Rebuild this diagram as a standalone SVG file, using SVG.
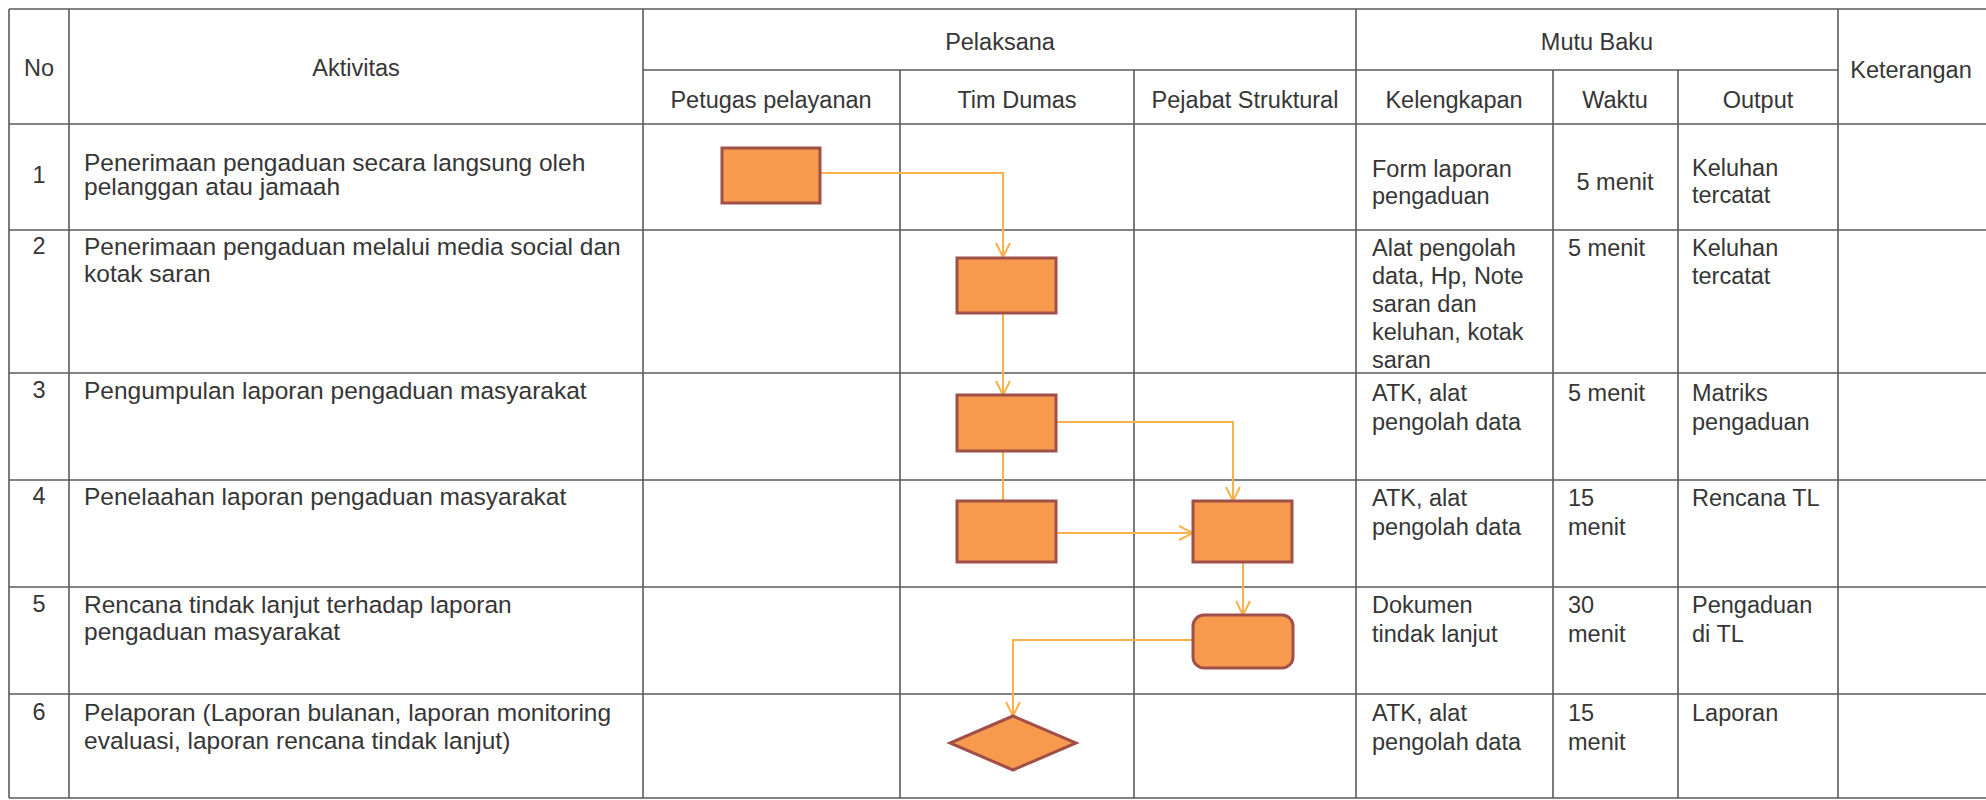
<svg xmlns="http://www.w3.org/2000/svg" width="1986" height="800" viewBox="0 0 1986 800">
<style>
.t{font-family:"Liberation Sans",Arial,sans-serif;font-size:23.5px;fill:#363636}
.a{font-size:24.5px}
.c{text-anchor:middle}
.g{stroke:#5a5a5a;stroke-width:1.6;fill:none}
.box{fill:#F79A4E;stroke:#A05048;stroke-width:3}
.con{fill:none;stroke:#F8B24C;stroke-width:2}
</style>
<defs>
<marker id="arr" viewBox="0 0 16 16" refX="15" refY="8" markerWidth="16" markerHeight="16" orient="auto" markerUnits="userSpaceOnUse">
<path d="M1,1 L15,8 L1,15" fill="none" stroke="#F8B24C" stroke-width="2"/>
</marker>
</defs>
<rect width="1986" height="800" fill="#ffffff"/>
<g id="grid" class="g">
<line x1="9" y1="9" x2="1986" y2="9"/>
<line x1="643" y1="70" x2="1838" y2="70"/>
<line x1="9" y1="124" x2="1986" y2="124"/>
<line x1="9" y1="230" x2="1986" y2="230"/>
<line x1="9" y1="373" x2="1986" y2="373"/>
<line x1="9" y1="480" x2="1986" y2="480"/>
<line x1="9" y1="587" x2="1986" y2="587"/>
<line x1="9" y1="694" x2="1986" y2="694"/>
<line x1="9" y1="798" x2="1986" y2="798"/>
<line x1="9" y1="9" x2="9" y2="798"/>
<line x1="69" y1="9" x2="69" y2="798"/>
<line x1="643" y1="9" x2="643" y2="798"/>
<line x1="900" y1="70" x2="900" y2="798"/>
<line x1="1134" y1="70" x2="1134" y2="798"/>
<line x1="1356" y1="9" x2="1356" y2="798"/>
<line x1="1553" y1="70" x2="1553" y2="798"/>
<line x1="1678" y1="70" x2="1678" y2="798"/>
<line x1="1838" y1="9" x2="1838" y2="798"/>
</g>
<g id="header">
<text class="t c" x="39" y="76">No</text>
<text class="t c" x="356" y="76">Aktivitas</text>
<text class="t c" x="1000" y="50">Pelaksana</text>
<text class="t c" x="1597" y="50">Mutu Baku</text>
<text class="t c" x="1911" y="78">Keterangan</text>
<text class="t c" x="771" y="108">Petugas pelayanan</text>
<text class="t c" x="1017" y="108">Tim Dumas</text>
<text class="t c" x="1245" y="108">Pejabat Struktural</text>
<text class="t c" x="1454" y="108">Kelengkapan</text>
<text class="t c" x="1615" y="108">Waktu</text>
<text class="t c" x="1758" y="108">Output</text>
</g>
<g id="row1">
<text class="t c" x="39" y="183">1</text>
<text class="t a" x="84" y="171">Penerimaan pengaduan secara langsung oleh</text>
<text class="t a" x="84" y="195">pelanggan atau jamaah</text>
<text class="t" x="1372" y="177">Form laporan</text>
<text class="t" x="1372" y="204">pengaduan</text>
<text class="t c" x="1615" y="190">5 menit</text>
<text class="t" x="1692" y="176">Keluhan</text>
<text class="t" x="1692" y="203">tercatat</text>
</g>
<g id="row2">
<text class="t c" x="39" y="254">2</text>
<text class="t a" x="84" y="255">Penerimaan pengaduan melalui media social dan</text>
<text class="t a" x="84" y="282">kotak saran</text>
<text class="t" x="1372" y="256">Alat pengolah</text>
<text class="t" x="1372" y="284">data, Hp, Note</text>
<text class="t" x="1372" y="312">saran dan</text>
<text class="t" x="1372" y="340">keluhan, kotak</text>
<text class="t" x="1372" y="368">saran</text>
<text class="t" x="1568" y="256">5 menit</text>
<text class="t" x="1692" y="256">Keluhan</text>
<text class="t" x="1692" y="284">tercatat</text>
</g>
<g id="row3">
<text class="t c" x="39" y="398">3</text>
<text class="t a" x="84" y="399">Pengumpulan laporan pengaduan masyarakat</text>
<text class="t" x="1372" y="401">ATK, alat</text>
<text class="t" x="1372" y="430">pengolah data</text>
<text class="t" x="1568" y="401">5 menit</text>
<text class="t" x="1692" y="401">Matriks</text>
<text class="t" x="1692" y="430">pengaduan</text>
</g>
<g id="row4">
<text class="t c" x="39" y="504">4</text>
<text class="t a" x="84" y="505">Penelaahan laporan pengaduan masyarakat</text>
<text class="t" x="1372" y="506">ATK, alat</text>
<text class="t" x="1372" y="535">pengolah data</text>
<text class="t" x="1568" y="506">15</text>
<text class="t" x="1568" y="535">menit</text>
<text class="t" x="1692" y="506">Rencana TL</text>
</g>
<g id="row5">
<text class="t c" x="39" y="612">5</text>
<text class="t a" x="84" y="613">Rencana tindak lanjut terhadap laporan</text>
<text class="t a" x="84" y="640">pengaduan masyarakat</text>
<text class="t" x="1372" y="613">Dokumen</text>
<text class="t" x="1372" y="642">tindak lanjut</text>
<text class="t" x="1568" y="613">30</text>
<text class="t" x="1568" y="642">menit</text>
<text class="t" x="1692" y="613">Pengaduan</text>
<text class="t" x="1692" y="642">di TL</text>
</g>
<g id="row6">
<text class="t c" x="39" y="720">6</text>
<text class="t a" x="84" y="721">Pelaporan (Laporan bulanan, laporan monitoring</text>
<text class="t a" x="84" y="749">evaluasi, laporan rencana tindak lanjut)</text>
<text class="t" x="1372" y="721">ATK, alat</text>
<text class="t" x="1372" y="750">pengolah data</text>
<text class="t" x="1568" y="721">15</text>
<text class="t" x="1568" y="750">menit</text>
<text class="t" x="1692" y="721">Laporan</text>
</g>
<g id="connectors">
<path class="con" d="M820,173 H1003 V257" marker-end="url(#arr)"/>
<path class="con" d="M1003,313 V395" marker-end="url(#arr)"/>
<path class="con" d="M1056,422 H1233 V501" marker-end="url(#arr)"/>
<path class="con" d="M1003,451 V501"/>
<path class="con" d="M1056,533 H1193" marker-end="url(#arr)"/>
<path class="con" d="M1243,562 V615" marker-end="url(#arr)"/>
<path class="con" d="M1193,640 H1013 V716" marker-end="url(#arr)"/>
</g>
<g id="node1"><rect class="box" x="722" y="148" width="98" height="55"/></g>
<g id="node2"><rect class="box" x="957" y="258" width="99" height="55"/></g>
<g id="node3"><rect class="box" x="957" y="395" width="99" height="56"/></g>
<g id="node4a"><rect class="box" x="957" y="501" width="99" height="61"/></g>
<g id="node4b"><rect class="box" x="1193" y="501" width="99" height="61"/></g>
<g id="node5"><rect class="box" x="1193" y="615" width="100" height="53" rx="11" ry="11"/></g>
<g id="node6"><polygon class="box" points="1013,716 1076,743 1013,770 950,743"/></g>
</svg>
